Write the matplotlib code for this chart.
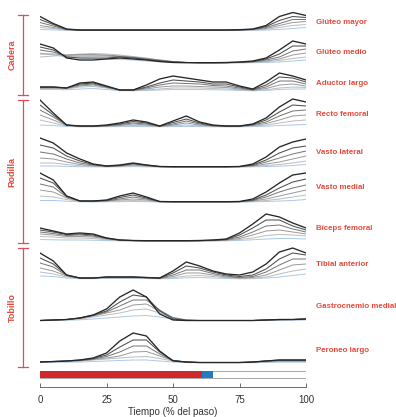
import matplotlib
matplotlib.use('Agg')

import numpy as np
import matplotlib.pyplot as plt

plt.rcParams['font.family'] = ['Liberation Sans', 'DejaVu Sans']

# === Data: EMG envelopes over the gait cycle (0-100 %, every 5 %) ===
# each muscle: rows from fastest (dark) to slowest (light), last row = blue reference
pct = [0, 5, 10, 15, 20, 25, 30, 35, 40, 45, 50, 55, 60, 65, 70, 75, 80, 85, 90, 95, 100]

gluteo_mayor = [
    [14, 7, 1.5, 0.5, 0.5, 0.5, 0.5, 0.5, 0.5, 0.5, 0.5, 0.5, 0.5, 0.5, 0.5, 0.8, 1.5, 5, 14, 18, 15],
    [11, 6, 1.2, 0.4, 0.4, 0.4, 0.4, 0.4, 0.4, 0.4, 0.4, 0.4, 0.4, 0.4, 0.4, 0.6, 1.2, 4, 10, 14, 13],
    [8, 4.5, 1, 0.3, 0.3, 0.3, 0.3, 0.3, 0.3, 0.3, 0.3, 0.3, 0.3, 0.3, 0.3, 0.5, 1, 3, 7, 11, 11],
    [5, 3, 0.8, 0.2, 0.2, 0.2, 0.2, 0.2, 0.2, 0.2, 0.2, 0.2, 0.2, 0.2, 0.2, 0.4, 0.8, 2, 5, 8, 9],
    [3, 2, 0.5, 0.1, 0.1, 0.1, 0.1, 0.1, 0.1, 0.1, 0.1, 0.1, 0.1, 0.1, 0.1, 0.3, 0.5, 1.2, 3, 5, 6],
    [1, 0.6, 0.2, 0, 0, 0, 0, 0, 0, 0, 0, 0, 0, 0, 0, 0, 0.2, 0.5, 1, 2, 3],
]
gluteo_medio = [
    [19, 15, 5, 3, 3, 4, 5, 4, 3, 1.5, 0.5, 0.3, 0.3, 0.3, 0.5, 1, 2, 5, 13, 22, 19],
    [16, 13, 6, 5, 5, 5, 6, 5, 3.5, 2, 1, 0.5, 0.3, 0.3, 0.4, 0.8, 1.5, 4, 9, 17, 17],
    [13, 11, 7, 7, 7, 7, 6.5, 5.5, 4, 2.5, 1.2, 0.5, 0.3, 0.3, 0.3, 0.6, 1.2, 3, 6, 12, 14],
    [9, 9, 8, 8.5, 8.5, 8, 7, 6, 4.5, 3, 1.5, 0.6, 0.3, 0.2, 0.2, 0.5, 1, 2, 4, 8, 10],
    [6, 7, 8, 9, 9.5, 9, 8, 6.5, 5, 3, 1.5, 0.6, 0.2, 0.2, 0.2, 0.3, 0.6, 1.2, 2.5, 4.5, 6],
    [10, 8, 6, 5, 4.5, 4, 3.5, 3, 2, 1.2, 0.6, 0.2, 0, 0, 0, 0.2, 0.3, 0.6, 1, 2, 3],
]
aductor_largo = [
    [4, 4, 3, 8, 9, 5, 1, 1, 6, 12, 15, 13, 11, 9, 9, 5, 2, 9, 18, 15, 11],
    [4, 4, 3, 7, 8, 4.5, 1, 1, 4, 8, 11, 10, 9, 7, 7, 4, 1.5, 6, 14, 13, 9],
    [3.5, 3.5, 3, 6, 7, 4, 1, 0.8, 3, 6, 8, 7.5, 7, 5.5, 5, 3, 1, 4, 10, 10, 7],
    [3, 3, 2.5, 5, 6, 3.5, 0.8, 0.6, 2, 4, 5, 5, 4.5, 4, 3.5, 2, 0.8, 2.5, 6, 7, 5],
    [2.5, 2.5, 2, 4, 4.5, 3, 0.6, 0.5, 1, 2, 3, 3, 3, 2.5, 2, 1.2, 0.5, 1.2, 3, 4, 3.5],
    [1.5, 1.5, 1.2, 2, 2.5, 1.5, 0.3, 0.2, 0.5, 1, 1.5, 1.5, 1.5, 1.2, 1, 0.6, 0.2, 0.6, 1.5, 2, 2],
]
recto_femoral = [
    [27, 14, 2, 1, 1, 2, 4, 7, 5, 1, 6, 11, 5, 2, 1, 1, 3, 9, 20, 28, 25],
    [22, 12, 2, 1, 1, 1.5, 3, 5.5, 4, 1, 4.5, 8, 4, 1.5, 1, 1, 2.5, 7, 15, 22, 21],
    [17, 10, 2, 0.8, 0.8, 1.2, 2.5, 4, 3, 0.8, 3, 6, 3, 1.2, 0.8, 0.8, 2, 5, 11, 16, 17],
    [12, 7, 1.5, 0.6, 0.6, 1, 1.5, 3, 2, 0.6, 2, 4, 2, 1, 0.6, 0.6, 1.5, 3.5, 7, 11, 12],
    [7, 4, 1, 0.4, 0.4, 0.6, 1, 1.5, 1.2, 0.4, 1.2, 2, 1.2, 0.6, 0.4, 0.4, 1, 2, 4, 6, 7],
    [2, 1.5, 0.5, 0.2, 0.2, 0.3, 0.4, 0.5, 0.4, 0.2, 0.4, 0.6, 0.4, 0.2, 0.2, 0.2, 0.4, 0.8, 1.5, 2, 2.5],
]
vasto_lateral = [
    [29, 24, 14, 8, 3, 1, 2, 4, 2, 0.5, 0.3, 0.3, 0.3, 0.3, 0.3, 0.5, 3, 10, 20, 25, 28],
    [22, 19, 11, 6, 2.5, 1, 1.5, 3.5, 2, 0.5, 0.3, 0.3, 0.3, 0.3, 0.3, 0.5, 2, 7, 14, 19, 21],
    [15, 13, 8, 4, 2, 0.8, 1.2, 3, 1.5, 0.4, 0.2, 0.2, 0.2, 0.2, 0.2, 0.4, 1.5, 5, 9, 13, 16],
    [9, 8, 5, 2.5, 1.2, 0.6, 1, 2, 1, 0.3, 0.2, 0.2, 0.2, 0.2, 0.2, 0.3, 1, 3, 5, 8, 11],
    [4, 4, 2.5, 1.2, 0.6, 0.3, 0.6, 1.2, 0.6, 0.2, 0.1, 0.1, 0.1, 0.1, 0.1, 0.2, 0.6, 1.5, 2.5, 4, 6],
    [1, 1, 0.6, 0.3, 0.2, 0.1, 0.2, 0.4, 0.2, 0, 0, 0, 0, 0, 0, 0, 0.2, 0.5, 0.8, 1.5, 2.5],
]
vasto_medial = [
    [29, 22, 6, 1, 1, 2, 6, 9, 5, 0.5, 0.3, 0.3, 0.3, 0.3, 0.3, 0.5, 3, 10, 19, 27, 29],
    [24, 19, 6, 1, 1, 1.5, 4.5, 7, 4, 0.5, 0.3, 0.3, 0.3, 0.3, 0.3, 0.4, 2, 7, 14, 20, 23],
    [18, 15, 5, 1, 0.8, 1.2, 3, 5, 3, 0.4, 0.2, 0.2, 0.2, 0.2, 0.2, 0.3, 1.5, 5, 10, 14, 17],
    [12, 10, 4, 0.8, 0.6, 1, 2, 3, 2, 0.3, 0.2, 0.2, 0.2, 0.2, 0.2, 0.3, 1, 3, 6, 9, 12],
    [6, 5, 2.5, 0.6, 0.4, 0.6, 1, 1.5, 1, 0.2, 0.1, 0.1, 0.1, 0.1, 0.1, 0.2, 0.6, 1.5, 3, 5, 7],
    [1.5, 1.5, 0.8, 0.2, 0.1, 0.2, 0.3, 0.5, 0.3, 0, 0, 0, 0, 0, 0, 0, 0.2, 0.5, 1, 1.5, 2.5],
]
biceps_femoral = [
    [13, 10, 7, 8, 7, 3, 1, 0.5, 0.3, 0.3, 0.3, 0.3, 0.5, 1, 2, 8, 17, 27, 24, 18, 13],
    [11, 9, 6.5, 7, 6, 3, 1, 0.5, 0.3, 0.3, 0.3, 0.3, 0.4, 0.8, 1.5, 6, 13, 21, 21, 15, 11],
    [9, 7.5, 5.5, 6, 5, 2.5, 0.8, 0.4, 0.2, 0.2, 0.2, 0.2, 0.3, 0.6, 1.2, 4, 9, 15, 16, 12, 9],
    [7, 6, 4.5, 4.5, 4, 2, 0.6, 0.3, 0.2, 0.2, 0.2, 0.2, 0.2, 0.4, 0.8, 2.5, 6, 10, 11, 9, 7],
    [4.5, 4, 3, 3, 2.5, 1.2, 0.4, 0.2, 0.1, 0.1, 0.1, 0.1, 0.1, 0.3, 0.5, 1.5, 3, 5.5, 6.5, 6, 5],
    [1.5, 1.2, 1, 1, 0.8, 0.4, 0.1, 0, 0, 0, 0, 0, 0, 0, 0.2, 0.6, 1.2, 2, 2.5, 2.5, 2],
]
tibial_anterior = [
    [26, 18, 4, 1, 1, 2, 2, 2, 1.5, 1, 8, 17, 13, 8, 5, 4, 7, 15, 27, 31, 26],
    [21, 15, 4, 1, 1, 2, 2, 2, 1.5, 1, 6, 13, 11, 7, 4, 2.5, 4, 10, 20, 26, 24],
    [16, 12, 3.5, 1, 1, 1.8, 1.8, 1.8, 1.2, 0.8, 4, 9, 9, 5.5, 3, 1.5, 2.5, 7, 14, 20, 20],
    [11, 8, 3, 0.8, 0.8, 1.5, 1.5, 1.5, 1, 0.6, 2.5, 6, 6, 4, 2, 1, 1.5, 4, 9, 14, 15],
    [7, 5, 2, 0.6, 0.6, 1, 1, 1, 0.8, 0.4, 1.2, 3, 3.5, 2.5, 1.2, 0.5, 0.8, 2, 5, 8, 10],
    [3, 2.5, 1, 0.3, 0.3, 0.5, 0.5, 0.5, 0.4, 0.2, 0.5, 1.2, 1.5, 1, 0.5, 0.2, 0.3, 1, 2, 3.5, 5],
]
gastrocnemio_medial = [
    [0.5, 1, 1.5, 3, 6, 12, 24, 31, 24, 7, 1, 0.5, 0.5, 0.5, 0.5, 0.5, 0.5, 1, 1.5, 1.5, 2],
    [0.5, 1, 1.5, 3, 6, 10, 19, 26, 24, 10, 2, 0.5, 0.5, 0.5, 0.5, 0.5, 0.5, 1, 1.5, 1.5, 2],
    [0.5, 1, 1.5, 3, 5.5, 9, 15, 21, 21, 11, 3, 0.8, 0.5, 0.5, 0.5, 0.5, 0.5, 1, 1.5, 1.5, 2],
    [0.5, 1, 1.5, 2.5, 5, 8, 11, 16, 17, 10, 3.5, 1, 0.5, 0.5, 0.5, 0.5, 0.5, 1, 1.2, 1.5, 1.8],
    [0.5, 0.8, 1.2, 2, 4, 6, 8, 11, 12, 8, 3.5, 1.2, 0.5, 0.5, 0.5, 0.5, 0.5, 0.8, 1, 1.2, 1.5],
    [0.3, 0.5, 0.8, 1.2, 2, 3, 4, 5, 5.5, 4, 2, 0.8, 0.3, 0.3, 0.3, 0.3, 0.3, 0.5, 0.6, 0.8, 1],
]
peroneo_largo = [
    [1, 1.5, 2, 3, 5, 10, 22, 30, 27, 12, 2, 1, 0.5, 0.5, 0.5, 0.5, 1, 2, 3, 3, 3],
    [1, 1.5, 2, 3, 4.5, 8, 16, 23, 23, 11, 2.5, 1, 0.5, 0.5, 0.5, 0.5, 1, 2, 3, 3, 3],
    [1, 1.5, 2, 2.5, 4, 6.5, 11, 17, 17, 9, 2.5, 1, 0.5, 0.5, 0.5, 0.5, 1, 2, 2.5, 2.5, 2.5],
    [1, 1.2, 1.8, 2.2, 3.5, 5, 7, 11, 11.5, 7, 2.5, 1, 0.5, 0.5, 0.5, 0.5, 0.8, 1.5, 2, 2, 2],
    [0.8, 1, 1.5, 2, 3, 4, 5, 6, 6.5, 4.5, 2, 0.8, 0.4, 0.4, 0.4, 0.4, 0.6, 1, 1.5, 1.5, 1.5],
    [0.5, 0.6, 0.8, 1, 1.5, 2, 2.5, 3, 3, 2, 1, 0.5, 0.2, 0.2, 0.2, 0.2, 0.3, 0.5, 0.8, 0.8, 0.8],
]

muscle_names = ["Glúteo mayor", "Glúteo medio", "Aductor largo", "Recto femoral",
                "Vasto lateral", "Vasto medial", "Bíceps femoral", "Tibial anterior",
                "Gastrocnemio medial", "Peroneo largo"]
muscle_data = [gluteo_mayor, gluteo_medio, aductor_largo, recto_femoral,
               vasto_lateral, vasto_medial, biceps_femoral, tibial_anterior,
               gastrocnemio_medial, peroneo_largo]

joint_names = ["Cadera", "Rodilla", "Tobillo"]

# gait phases: stance (red), transition (blue), swing (empty)
phase_start = [0, 61]
phase_width = [61, 4]

# === Layout (pixel rows, y grows downward) ===
baselines = [30.5, 63, 91, 127, 167, 202, 241, 279, 321, 363]
label_rows = [22, 52, 83, 114, 153, 187, 228, 264, 306, 350]
joint_spans = [(15, 95), (100, 243), (248, 367)]

line_colors = ['#262626', '#4f4f4f', '#747474', '#999999', '#bcbcbc', '#a9c9ea']
line_widths = [0.95, 0.75, 0.7, 0.7, 0.7, 0.7]
label_red = '#e5483b'
bracket_red = '#e04b58'

W, H = 396, 417
fig = plt.figure(figsize=(W / 100, H / 100), dpi=100)
ax = fig.add_axes([40 / W, 0, 266 / W, 1])
ax.set_xlim(0, 100)
ax.set_ylim(H, 0)
ax.axis('off')

x = np.array(pct)
for base, curves, name, ly in zip(baselines, muscle_data, muscle_names, label_rows):
    # draw lightest first so the darkest sits on top
    for vals, c, lw in reversed(list(zip(curves, line_colors, line_widths))):
        ax.plot(x, base - np.array(vals), color=c, lw=lw, solid_joinstyle='round')
    ax.text(103.8, ly, name, color=label_red, fontsize=5.7, fontweight='bold',
            va='center', ha='left')

# joint brackets on the left
px = 100 / 266  # data units per pixel
bx = (23 - 40) * px
for (top, bot), jname in zip(joint_spans, joint_names):
    ax.plot([bx, bx], [top, bot], color=bracket_red, lw=0.9, clip_on=False)
    for yy in (top, bot):
        ax.plot([bx - 5 * px, bx + 5 * px], [yy, yy], color=bracket_red, lw=0.9,
                clip_on=False)
    ax.text((12 - 40) * px, (top + bot) / 2, jname, color=label_red, fontsize=6.5,
            fontweight='bold', rotation=90, va='center', ha='center')

# gait phase bar
ax.barh(374.5, 100, left=0, height=7, color='white', edgecolor='#9a9a9a', lw=0.6)
ax.barh([374.5, 374.5], phase_width, left=phase_start, height=6.4,
        color=['#d0262d', '#1f7cc4'], lw=0)

# time axis
ax_t = fig.add_axes([40 / W, (H - 387) / H, 266 / W, 0.0001])
ax_t.set_xlim(0, 100)
ax_t.set_yticks([])
for s in ('left', 'right', 'top'):
    ax_t.spines[s].set_visible(False)
ax_t.spines['bottom'].set_color('#555555')
ax_t.spines['bottom'].set_linewidth(0.6)
ax_t.set_xticks([0, 25, 50, 75, 100])
ax_t.tick_params(axis='x', direction='in', length=3, width=0.6, colors='#555555',
                 labelcolor='#333333', labelsize=7, pad=6)
ax_t.set_xlabel("Tiempo (% del paso)", fontsize=7, color='#333333', labelpad=1)

plt.savefig("out.png", dpi=100)
